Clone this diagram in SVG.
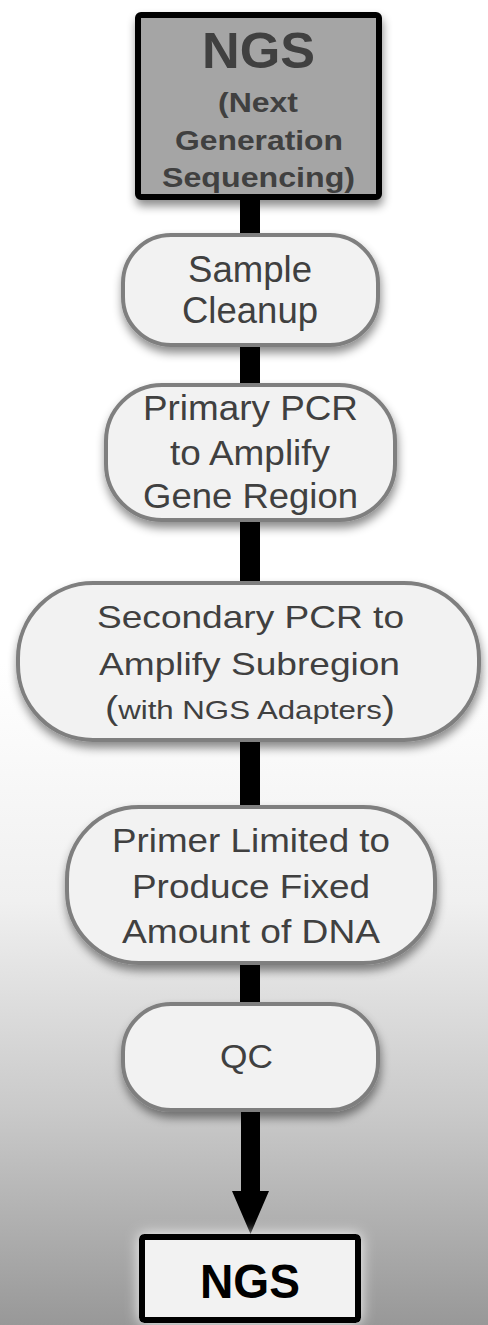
<svg xmlns="http://www.w3.org/2000/svg" width="488" height="1325" viewBox="0 0 488 1325">
  <defs>
    <linearGradient id="bg" x1="0" y1="0" x2="0" y2="1">
      <stop offset="0" stop-color="#ffffff"/>
      <stop offset="0.5" stop-color="#ffffff"/>
      <stop offset="0.68" stop-color="#f0f0f0"/>
      <stop offset="0.84" stop-color="#c9c9c9"/>
      <stop offset="1" stop-color="#989898"/>
    </linearGradient>
    <filter id="shadow" x="-20%" y="-20%" width="140%" height="150%">
      <feDropShadow dx="1" dy="6" stdDeviation="5" flood-color="#000" flood-opacity="0.45"/>
    </filter>
    <filter id="glow" x="-30%" y="-30%" width="160%" height="160%">
      <feDropShadow dx="0" dy="0" stdDeviation="7" flood-color="#fff" flood-opacity="0.9"/>
    </filter>
    <style>
      .pill { fill: #f2f2f2; stroke: #7f7f7f; stroke-width: 4; filter: url(#shadow); }
      .t { font-family: "Liberation Sans", Arial, sans-serif; fill: #404040; }
      .tb { font-family: "Liberation Sans", Arial, sans-serif; font-weight: bold; fill: #404040; }
      .line { fill: #000; }
    </style>
  </defs>
  <rect x="0" y="0" width="488" height="1325" fill="url(#bg)"/>

  <g id="connectors">
    <rect class="line" x="240" y="196" width="20" height="40"/>
    <rect class="line" x="240" y="344" width="20" height="42"/>
    <rect class="line" x="240" y="519" width="20" height="65"/>
    <rect class="line" x="240" y="739" width="20" height="69"/>
    <rect class="line" x="240" y="962" width="20" height="43"/>
    <path class="line" d="M241,1109 L260,1109 L260,1191 L269,1191 L250.5,1234 L232,1191 L241,1191 Z"/>
  </g>

  <g id="node-ngs-top">
    <rect x="138" y="15" width="241" height="182" rx="3" fill="#a5a5a5" stroke="#000" stroke-width="6" filter="url(#shadow)"/>
    <text class="tb" x="202" y="68" font-size="50" textLength="113" lengthAdjust="spacingAndGlyphs">NGS</text>
    <text class="tb" x="218" y="112" font-size="28" textLength="80" lengthAdjust="spacingAndGlyphs">(Next</text>
    <text class="tb" x="175" y="150" font-size="28" textLength="168" lengthAdjust="spacingAndGlyphs">Generation</text>
    <text class="tb" x="162" y="187" font-size="28" textLength="193" lengthAdjust="spacingAndGlyphs">Sequencing)</text>
  </g>

  <g id="node-sample-cleanup">
    <rect class="pill" x="123" y="235" width="255" height="110" rx="48" ry="48"/>
    <text class="t" x="188" y="282" font-size="36" textLength="124" lengthAdjust="spacingAndGlyphs">Sample</text>
    <text class="t" x="182" y="323" font-size="36" textLength="136" lengthAdjust="spacingAndGlyphs">Cleanup</text>
  </g>

  <g id="node-primary-pcr">
    <rect class="pill" x="106" y="385" width="289" height="135" rx="56" ry="56"/>
    <text class="t" x="143" y="420" font-size="35" textLength="215" lengthAdjust="spacingAndGlyphs">Primary PCR</text>
    <text class="t" x="170" y="465" font-size="35" textLength="160" lengthAdjust="spacingAndGlyphs">to Amplify</text>
    <text class="t" x="143" y="508" font-size="35" textLength="215" lengthAdjust="spacingAndGlyphs">Gene Region</text>
  </g>

  <g id="node-secondary-pcr">
    <rect class="pill" x="18" y="583" width="461" height="157" rx="75" ry="75"/>
    <text class="t" x="97" y="628" font-size="32" textLength="307" lengthAdjust="spacingAndGlyphs">Secondary PCR to</text>
    <text class="t" x="99" y="675" font-size="32" textLength="301" lengthAdjust="spacingAndGlyphs">Amplify Subregion</text>
    <text class="t" x="105" y="719" font-size="26" textLength="290" lengthAdjust="spacingAndGlyphs"><tspan font-size="33">(</tspan>with NGS Adapters<tspan font-size="33">)</tspan></text>
  </g>

  <g id="node-primer-limited">
    <rect class="pill" x="67" y="807" width="368" height="156" rx="72" ry="72"/>
    <text class="t" x="112" y="852" font-size="33" textLength="278" lengthAdjust="spacingAndGlyphs">Primer Limited to</text>
    <text class="t" x="132" y="898" font-size="33" textLength="238" lengthAdjust="spacingAndGlyphs">Produce Fixed</text>
    <text class="t" x="122" y="943" font-size="33" textLength="258" lengthAdjust="spacingAndGlyphs">Amount of DNA</text>
  </g>

  <g id="node-qc">
    <rect class="pill" x="123" y="1004" width="255" height="106" rx="48" ry="48"/>
    <text class="t" x="220" y="1068" font-size="33" textLength="53" lengthAdjust="spacingAndGlyphs">QC</text>
  </g>

  <g id="node-ngs-bottom">
    <rect x="142" y="1237" width="216" height="83" rx="2" fill="#f2f2f2" stroke="#000" stroke-width="6" filter="url(#glow)"/>
    <text x="200" y="1298" font-family="Liberation Sans, Arial, sans-serif" font-weight="bold" font-size="48" fill="#000" textLength="100" lengthAdjust="spacingAndGlyphs">NGS</text>
  </g>
</svg>
